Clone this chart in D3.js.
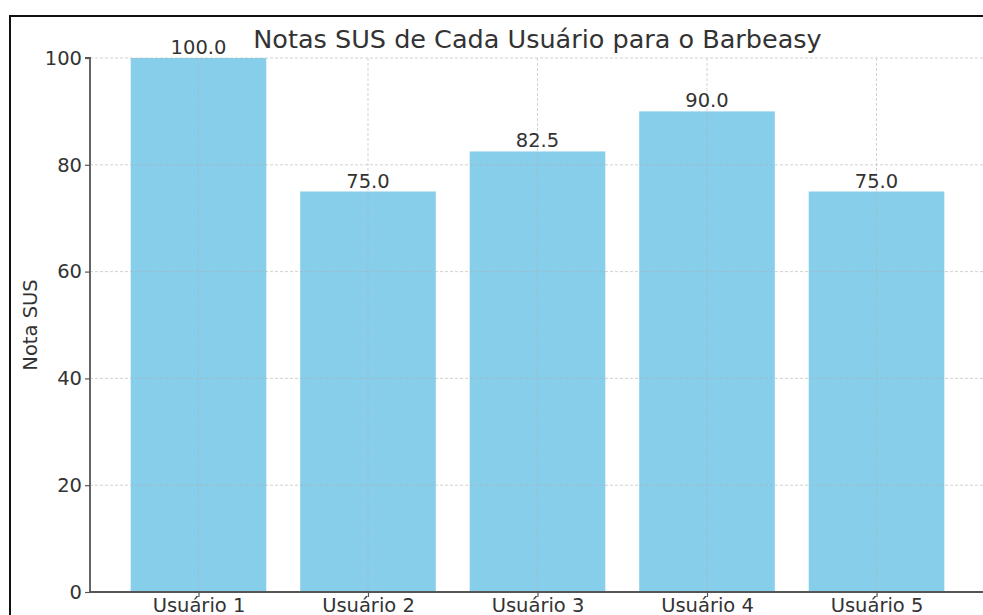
<!DOCTYPE html>
<html>
<head>
<meta charset="utf-8">
<script src="https://cdn.jsdelivr.net/npm/d3@7"></script>
<style>
  body { margin: 0; background: #fff; }
  text { font-family: "DejaVu Sans", sans-serif; }
</style>
</head>
<body>
<script>
// --- Data ---
const users = ["Usuário 1", "Usuário 2", "Usuário 3", "Usuário 4", "Usuário 5"];
const scores = [100.0, 75.0, 82.5, 90.0, 75.0];
const yTicks = [0, 20, 40, 60, 80, 100];

// --- Layout ---
const W = 983, H = 615;
const plot = { left: 90, right: 985, top: 58, bottom: 592 };
const TEXT = "#333";
const SPINE = "#555";
const FS = 19.5;

const svg = d3.select("body").append("svg")
  .attr("width", W).attr("height", H);

svg.append("rect").attr("width", W).attr("height", H).attr("fill", "#fff");

// screenshot frame
svg.append("path")
  .attr("d", `M10,${H + 5} V16 H${W + 5}`)
  .attr("fill", "none").attr("stroke", "#111").attr("stroke-width", 2);

// --- Scales (bar width 0.8, margin like matplotlib) ---
const x = d3.scaleLinear()
  .domain([-0.64, users.length - 1 + 0.64])
  .range([plot.left, plot.right]);
const step = x(1) - x(0);
const barW = step * 0.8;

const y = d3.scaleLinear().domain([0, 100]).range([plot.bottom, plot.top]);

// --- Bars ---
svg.append("g").selectAll("rect")
  .data(scores)
  .join("rect")
  .attr("x", (d, i) => x(i) - barW / 2)
  .attr("y", d => y(d))
  .attr("width", barW)
  .attr("height", d => y(0) - y(d))
  .attr("fill", "#87ceeb");

// --- Grid (drawn over bars) ---
const grid = svg.append("g")
  .attr("stroke", "#b0b0b0").attr("stroke-width", 0.8)
  .attr("stroke-dasharray", "3,2").attr("opacity", 0.7);

grid.selectAll("line.h")
  .data(yTicks.filter(t => t > 0))
  .join("line").attr("class", "h")
  .attr("x1", plot.left).attr("x2", plot.right)
  .attr("y1", d => y(d)).attr("y2", d => y(d));

grid.selectAll("line.v")
  .data(users)
  .join("line").attr("class", "v")
  .attr("x1", (d, i) => x(i)).attr("x2", (d, i) => x(i))
  .attr("y1", plot.top).attr("y2", plot.bottom);

// --- Axes ---
const yAxis = d3.axisLeft(y).tickValues(yTicks).tickSize(5).tickPadding(3);
const gy = svg.append("g")
  .attr("transform", `translate(${plot.left},0)`)
  .call(yAxis);
gy.select(".domain").attr("stroke", SPINE).attr("stroke-width", 1.8)
  .attr("d", `M-5,${plot.top}H0V${plot.bottom}`);
gy.selectAll(".tick line").attr("stroke", SPINE).attr("stroke-width", 1.2);
gy.selectAll(".tick text").attr("fill", TEXT).attr("font-size", FS)
  .attr("font-family", "DejaVu Sans");

const xAxis = d3.axisBottom(x).tickValues(d3.range(users.length))
  .tickFormat(i => users[i]).tickSize(5).tickPadding(1);
const gx = svg.append("g")
  .attr("transform", `translate(0,${plot.bottom})`)
  .call(xAxis);
gx.select(".domain").attr("stroke", SPINE).attr("stroke-width", 1.8)
  .attr("d", `M${plot.left},0H${plot.right}`);
gx.selectAll(".tick line").attr("stroke", SPINE).attr("stroke-width", 1.2);
gx.selectAll(".tick text").attr("fill", TEXT).attr("font-size", FS)
  .attr("font-family", "DejaVu Sans");

// --- Bar value labels ---
svg.append("g").selectAll("text")
  .data(scores)
  .join("text")
  .attr("x", (d, i) => x(i))
  .attr("y", d => y(d) - 4)
  .attr("text-anchor", "middle")
  .attr("font-size", FS)
  .attr("fill", TEXT)
  .text(d => d.toFixed(1));

// --- Title and label ---
svg.append("text")
  .attr("x", (plot.left + plot.right) / 2).attr("y", 48)
  .attr("text-anchor", "middle")
  .attr("font-size", 25.5)
  .attr("fill", TEXT)
  .text("Notas SUS de Cada Usuário para o Barbeasy");

svg.append("text")
  .attr("transform", `translate(37,${(plot.top + plot.bottom) / 2}) rotate(-90)`)
  .attr("text-anchor", "middle")
  .attr("font-size", FS)
  .attr("fill", TEXT)
  .text("Nota SUS");
</script>
</body>
</html>
